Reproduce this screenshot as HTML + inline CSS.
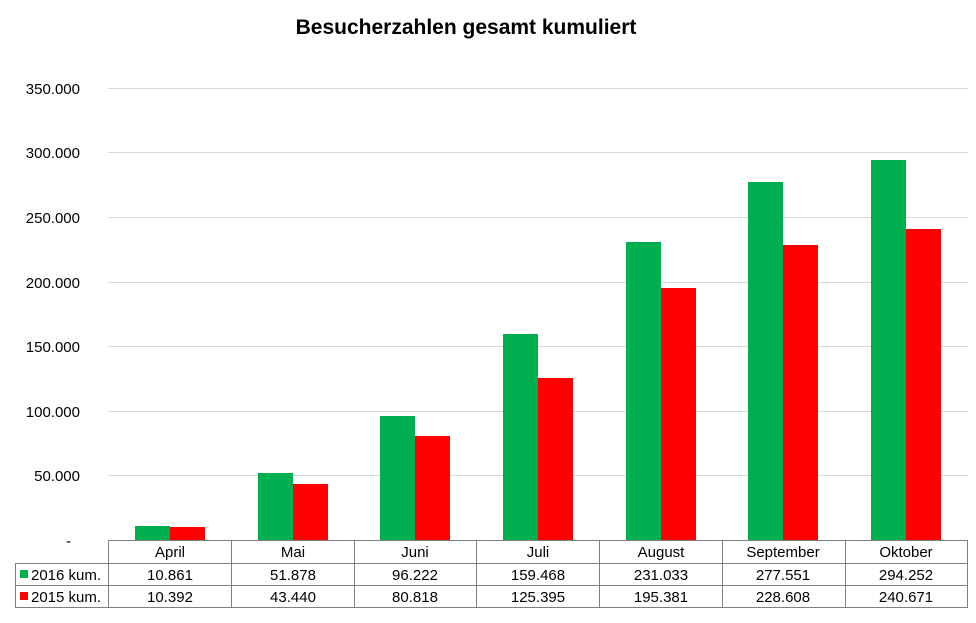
<!DOCTYPE html>
<html><head><meta charset="utf-8"><style>
body{margin:0;background:#fff;}
svg text{font-family:"Liberation Sans",Arial,sans-serif;}
</style></head><body>
<svg width="976" height="618" viewBox="0 0 976 618" xmlns="http://www.w3.org/2000/svg">
<rect width="976" height="618" fill="#fff"/>
<text x="466" y="34" font-size="21" font-weight="bold" text-anchor="middle" fill="#000">Besucherzahlen gesamt kumuliert</text>
<g stroke="#d9d9d9" stroke-width="1">
<line x1="108" x2="968" y1="88.5" y2="88.5"/>
<line x1="108" x2="968" y1="152.5" y2="152.5"/>
<line x1="108" x2="968" y1="217.5" y2="217.5"/>
<line x1="108" x2="968" y1="282.5" y2="282.5"/>
<line x1="108" x2="968" y1="346.5" y2="346.5"/>
<line x1="108" x2="968" y1="411.5" y2="411.5"/>
<line x1="108" x2="968" y1="475.5" y2="475.5"/>
</g>
<g font-size="15" text-anchor="end" fill="#000">
<text x="80" y="94">350.000</text>
<text x="80" y="158">300.000</text>
<text x="80" y="223">250.000</text>
<text x="80" y="288">200.000</text>
<text x="80" y="352">150.000</text>
<text x="80" y="417">100.000</text>
<text x="80" y="481">50.000</text>
<text x="71" y="546">-</text>
</g>
<g fill="#00b050">
<rect x="135" y="526" width="35" height="14"/>
<rect x="258" y="473" width="35" height="67"/>
<rect x="380" y="416" width="35" height="124"/>
<rect x="503" y="334" width="35" height="206"/>
<rect x="626" y="242" width="35" height="298"/>
<rect x="748" y="182" width="35" height="358"/>
<rect x="871" y="160" width="35" height="380"/>
</g>
<g fill="#ff0000">
<rect x="170" y="527" width="35" height="13"/>
<rect x="293" y="484" width="35" height="56"/>
<rect x="415" y="436" width="35" height="104"/>
<rect x="538" y="378" width="35" height="162"/>
<rect x="661" y="288" width="35" height="252"/>
<rect x="783" y="245" width="35" height="295"/>
<rect x="906" y="229" width="35" height="311"/>
</g>
<g stroke="#7f7f7f" stroke-width="1" fill="none">
<line x1="108" x2="968" y1="540.5" y2="540.5"/>
<line x1="15" x2="968" y1="563.5" y2="563.5"/>
<line x1="15" x2="968" y1="585.5" y2="585.5"/>
<line x1="15" x2="968" y1="607.5" y2="607.5"/>
<line x1="15.5" x2="15.5" y1="563" y2="608"/>
<line x1="108.5" x2="108.5" y1="540" y2="608"/>
<line x1="231.5" x2="231.5" y1="540" y2="608"/>
<line x1="354.5" x2="354.5" y1="540" y2="608"/>
<line x1="476.5" x2="476.5" y1="540" y2="608"/>
<line x1="599.5" x2="599.5" y1="540" y2="608"/>
<line x1="722.5" x2="722.5" y1="540" y2="608"/>
<line x1="845.5" x2="845.5" y1="540" y2="608"/>
<line x1="967.5" x2="967.5" y1="540" y2="608"/>
</g>
<g font-size="15" text-anchor="middle" fill="#000">
<text x="170" y="557">April</text><text x="293" y="557">Mai</text><text x="415" y="557">Juni</text><text x="538" y="557">Juli</text><text x="661" y="557">August</text><text x="783" y="557">September</text><text x="906" y="557">Oktober</text>
<text x="170" y="580">10.861</text><text x="293" y="580">51.878</text><text x="415" y="580">96.222</text><text x="538" y="580">159.468</text><text x="661" y="580">231.033</text><text x="783" y="580">277.551</text><text x="906" y="580">294.252</text>
<text x="170" y="602">10.392</text><text x="293" y="602">43.440</text><text x="415" y="602">80.818</text><text x="538" y="602">125.395</text><text x="661" y="602">195.381</text><text x="783" y="602">228.608</text><text x="906" y="602">240.671</text>
</g>
<rect x="20" y="570" width="8" height="8" fill="#00b050"/>
<rect x="20" y="592" width="8" height="8" fill="#ff0000"/>
<g font-size="15" fill="#000">
<text x="31" y="580">2016 kum.</text>
<text x="31" y="602">2015 kum.</text>
</g>
</svg>
</body></html>
